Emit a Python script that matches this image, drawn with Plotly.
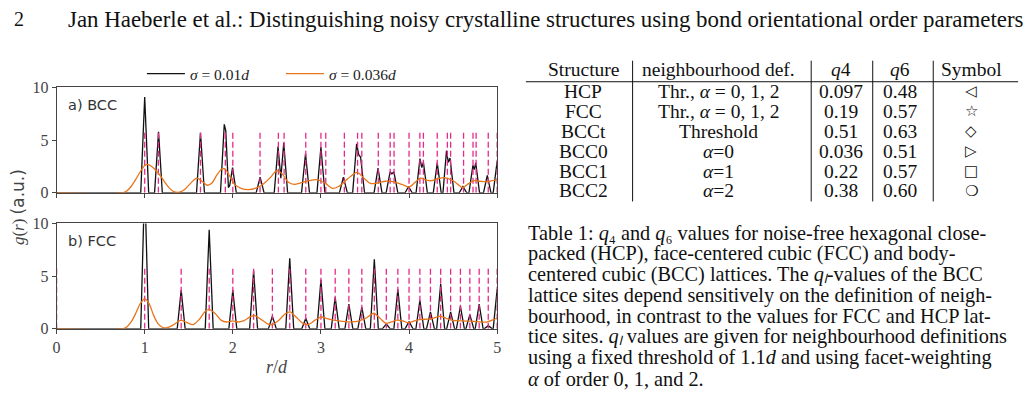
import plotly.graph_objects as go

W, H = 1033, 402

# ---------------- data ----------------
# r/d positions of the neighbour shells (dashed lines)
BCC_SHELLS = [1.0, 1.155, 1.633, 1.915, 2.0, 2.309, 2.517, 2.582, 2.828, 3.0, 3.055,
              3.266, 3.416, 3.464, 3.651, 3.786, 3.830, 4.0, 4.123, 4.163, 4.320,
              4.435, 4.472, 4.619, 4.726, 4.761, 4.899, 5.0]
FCC_SHELLS = [0.0, 1.0, 1.414, 1.732, 2.0, 2.236, 2.449, 2.646, 2.828, 3.0, 3.162,
              3.317, 3.464, 3.606, 3.742, 3.873, 4.0, 4.123, 4.243, 4.359, 4.472,
              4.583, 4.690, 4.796, 4.899, 5.0]
SHELL_MARK_HEIGHT = 5.8

# g(r), sigma = 0.01d  (BCC)
BCC_NARROW_R = [0.0, 0.955, 1.0, 1.045, 1.112, 1.157, 1.2, 1.588, 1.633, 1.678,
                1.86, 1.903, 1.92, 1.95, 1.965, 1.997, 2.04,
                2.265, 2.31, 2.355, 2.47, 2.513, 2.545, 2.578, 2.622,
                2.78, 2.825, 2.87, 2.955, 3.0, 3.045,
                3.21, 3.255, 3.3, 3.36, 3.405, 3.43, 3.45, 3.495,
                3.603, 3.648, 3.693, 3.74, 3.785, 3.805, 3.828, 3.873,
                3.955, 3.995, 4.035, 4.08, 4.124, 4.145, 4.163, 4.208,
                4.275, 4.32, 4.365, 4.385, 4.425, 4.445, 4.465, 4.51,
                4.57, 4.612, 4.655, 4.68, 4.725, 4.74, 4.757, 4.8,
                4.845, 4.888, 4.93, 4.955, 5.0]
BCC_NARROW_G = [0.0, 0.0, 9.1, 0.0, 0.0, 5.8, 0.0, 0.0, 5.7, 0.0,
                0.0, 6.5, 5.9, 0.5, 0.7, 2.4, 0.0,
                0.0, 1.5, 0.0, 0.0, 4.4, 1.4, 4.75, 0.0,
                0.0, 3.7, 0.0, 0.0, 4.35, 0.0,
                0.0, 1.5, 0.0, 0.0, 4.65, 3.6, 3.4, 0.0,
                0.0, 2.35, 0.0, 0.0, 2.0, 1.8, 2.0, 0.0,
                0.0, 0.6, 0.0, 0.0, 3.25, 2.4, 2.9, 0.0,
                0.0, 2.85, 0.0, 0.0, 4.0, 2.9, 3.3, 0.0,
                0.0, 0.6, 0.0, 0.0, 2.6, 2.2, 2.85, 0.0,
                0.0, 1.65, 0.0, 0.0, 3.0]

# g(r), sigma = 0.036d  (BCC)
BCC_WIDE_R = [0.0, 0.75, 0.8, 0.85, 0.9, 0.95, 1.0, 1.03, 1.08, 1.13, 1.18, 1.23, 1.28,
              1.33, 1.38, 1.45, 1.52, 1.59, 1.65, 1.71, 1.76, 1.82, 1.88, 1.92, 1.97,
              2.02, 2.1, 2.18, 2.26, 2.34, 2.42, 2.5, 2.56, 2.63, 2.7, 2.77, 2.84,
              2.96, 3.05, 3.13, 3.2, 3.3, 3.41, 3.5, 3.56, 3.65, 3.73, 3.83, 3.92,
              4.0, 4.07, 4.13, 4.2, 4.25, 4.33, 4.4, 4.5, 4.57, 4.61, 4.68, 4.74,
              4.8, 4.87, 4.94, 5.0]
BCC_WIDE_G = [0.0, 0.0, 0.2, 0.65, 1.3, 2.0, 2.6, 2.7, 2.5, 2.1, 1.6, 1.0, 0.45,
              0.12, 0.05, 0.3, 0.9, 1.4, 1.1, 0.72, 0.9, 1.7, 2.3, 2.2, 1.5,
              0.8, 0.4, 0.3, 0.45, 0.8, 1.4, 2.1, 1.8, 1.0, 0.8, 0.95, 1.1,
              1.24, 0.9, 0.42, 0.6, 1.3, 1.95, 1.3, 0.9, 0.95, 1.1, 1.05, 0.8,
              0.55, 1.0, 1.4, 1.2, 1.15, 1.35, 1.45, 1.15, 0.7, 0.5, 0.9, 1.15,
              1.1, 1.05, 1.15, 1.25]

# g(r), sigma = 0.01d  (FCC)
FCC_NARROW_R = [0.0, 0.955, 1.0, 1.045, 1.369, 1.414, 1.459, 1.687, 1.732, 1.777,
                1.955, 2.0, 2.045, 2.191, 2.236, 2.281, 2.404, 2.449, 2.494,
                2.601, 2.646, 2.691, 2.783, 2.828, 2.873, 2.955, 3.0, 3.045,
                3.117, 3.162, 3.207, 3.272, 3.317, 3.362, 3.419, 3.464, 3.509,
                3.561, 3.606, 3.651, 3.697, 3.742, 3.787, 3.828, 3.873, 3.918,
                3.955, 4.0, 4.045, 4.078, 4.123, 4.168, 4.198, 4.243, 4.288,
                4.314, 4.359, 4.404, 4.427, 4.472, 4.517, 4.538, 4.583, 4.628,
                4.645, 4.690, 4.735, 4.751, 4.796, 4.841, 4.854, 4.899, 4.944,
                4.955, 5.0]
FCC_NARROW_G = [0.0, 0.0, 14.0, 0.0, 0.0, 3.67, 0.0, 0.0, 9.4, 0.0,
                0.0, 3.67, 0.0, 0.0, 5.5, 0.0, 0.0, 1.2, 0.0,
                0.0, 6.7, 0.0, 0.0, 1.0, 0.0, 0.0, 4.65, 0.0,
                0.0, 3.0, 0.0, 0.0, 2.35, 0.0, 0.0, 2.05, 0.0,
                0.0, 6.6, 0.0, 0.0, 0.45, 0.0, 0.0, 3.75, 0.0,
                0.0, 0.7, 0.0, 0.0, 2.7, 0.0, 0.0, 1.6, 0.0,
                0.0, 4.25, 0.0, 0.0, 1.6, 0.0, 0.0, 2.15, 0.0,
                0.0, 1.35, 0.0, 0.0, 2.35, 0.0, 0.0, 0.3, 0.0,
                0.0, 3.75]

# g(r), sigma = 0.036d  (FCC)
FCC_WIDE_R = [0.0, 0.75, 0.8, 0.85, 0.9, 0.95, 1.0, 1.05, 1.1, 1.15, 1.2, 1.25, 1.32,
              1.41, 1.48, 1.55, 1.62, 1.68, 1.73, 1.8, 1.87, 1.93, 2.0, 2.06, 2.12,
              2.2, 2.25, 2.32, 2.4, 2.45, 2.52, 2.6, 2.65, 2.72, 2.8, 2.86, 2.93,
              3.0, 3.08, 3.16, 3.31, 3.43, 3.52, 3.6, 3.67, 3.74, 3.8, 3.86, 3.93,
              3.99, 4.06, 4.12, 4.25, 4.35, 4.42, 4.48, 4.6, 4.71, 4.88, 4.95, 5.0]
FCC_WIDE_G = [0.0, 0.0, 0.2, 0.7, 1.5, 2.4, 2.85, 2.4, 1.3, 0.5, 0.15, 0.1, 0.35,
              0.8, 0.6, 0.4, 0.9, 1.6, 1.85, 1.45, 0.8, 0.65, 0.75, 0.65, 0.75,
              1.15, 1.25, 0.9, 0.45, 0.42, 0.8, 1.45, 1.6, 1.1, 0.5, 0.42, 0.8,
              1.12, 0.95, 0.8, 0.67, 0.73, 1.05, 1.48, 1.0, 0.52, 0.65, 0.82, 0.75,
              0.58, 0.75, 0.88, 0.95, 1.18, 1.0, 0.82, 0.75, 0.73, 0.64, 0.85, 1.03]

X_TICKS = [0, 1, 2, 3, 4, 5]
Y_TICKS = [0, 5, 10]

LEGEND_NARROW = "<i>σ</i> = 0.01<i>d</i>"
LEGEND_WIDE = "<i>σ</i> = 0.036<i>d</i>"
PANEL_LABELS = ["a) BCC", "b) FCC"]

HEADER_PAGE = "2"
HEADER_TITLE = ("Jan Haeberle et al.: Distinguishing noisy crystalline structures "
                "using bond orientational order parameters")

TABLE_HEADER = ["Structure", "neighbourhood def.", "<i>q</i>4", "<i>q</i>6", "Symbol"]
STRUCTURES = ["HCP", "FCC", "BCCt", "BCC0", "BCC1", "BCC2"]
NEIGHBOURHOOD = ["Thr., <i>α</i> = 0, 1, 2", "Thr., <i>α</i> = 0, 1, 2", "Threshold",
                 "<i>α</i>=0", "<i>α</i>=1", "<i>α</i>=2"]
Q4_VALUES = ["0.097", "0.19", "0.51", "0.036", "0.22", "0.38"]
Q6_VALUES = ["0.48", "0.57", "0.63", "0.51", "0.57", "0.60"]
SYMBOLS = ["◁", "☆", "◇", "▷", "□", "❍"]

CAPTION_LINES = [
    "Table 1: <i>q</i>₄ and <i>q</i>₆ values for noise-free hexagonal close-",
    "packed (HCP), face-centered cubic (FCC) and body-",
    "centered cubic (BCC) lattices. The <i>q</i><i>ₗ</i>-values of the BCC",
    "lattice sites depend sensitively on the definition of neigh-",
    "bourhood, in contrast to the values for FCC and HCP lat-",
    "tice sites. <i>q</i><i>ₗ</i> values are given for neighbourhood definitions",
    "using a fixed threshold of 1.1<i>d</i> and using facet-weighting",
    "<i>α</i> of order 0, 1, and 2.",
]

# ---------------- styling / layout ----------------
SERIF = "Liberation Serif"
SANS = "DejaVu Sans"
BLACK = "#111111"
ORANGE = "#e8751a"
PINK = "#e7298a"
AXIS = "#444444"


def px(x):
    return x / W


def py(y):
    return 1 - y / H


def shell_xy(shells):
    xs, ys = [], []
    for s in shells:
        xs += [s, s, None]
        ys += [0, SHELL_MARK_HEIGHT, None]
    return xs, ys


fig = go.Figure()

panels = [
    ("x", "y", BCC_NARROW_R, BCC_NARROW_G, BCC_WIDE_R, BCC_WIDE_G, BCC_SHELLS, True),
    ("x2", "y2", FCC_NARROW_R, FCC_NARROW_G, FCC_WIDE_R, FCC_WIDE_G, FCC_SHELLS, False),
]
for xa, ya, nr, ng, wr, wg, shells, show in panels:
    fig.add_trace(go.Scatter(x=nr, y=ng, mode="lines", xaxis=xa, yaxis=ya,
                             line=dict(color=BLACK, width=1.3),
                             name=LEGEND_NARROW, showlegend=show, legendrank=1))
    sx, sy = shell_xy(shells)
    fig.add_trace(go.Scatter(x=sx, y=sy, mode="lines", xaxis=xa, yaxis=ya,
                             line=dict(color=PINK, width=1.3, dash="6px,3px"),
                             showlegend=False, hoverinfo="skip"))
    fig.add_trace(go.Scatter(x=wr, y=wg, mode="lines", xaxis=xa, yaxis=ya,
                             line=dict(color=ORANGE, width=1.3, shape="spline", smoothing=0.8),
                             name=LEGEND_WIDE, showlegend=show, legendrank=2))

axis_common = dict(showline=True, linecolor=AXIS, linewidth=1, mirror=True,
                   ticks="outside", ticklen=4, tickcolor=AXIS, tickwidth=1,
                   showgrid=False, zeroline=False,
                   tickfont=dict(family=SERIF, size=16, color="#444444"))

x_dom = [px(53), px(497)]
fig.update_layout(
    width=W, height=H,
    margin=dict(l=0, r=0, t=0, b=0),
    paper_bgcolor="white", plot_bgcolor="white",
    xaxis=dict(domain=x_dom, range=[0, 5], tickvals=X_TICKS, showticklabels=False,
               anchor="y", **axis_common),
    yaxis=dict(domain=[py(193), py(83)], range=[0, 10], tickvals=Y_TICKS,
               anchor="x", **axis_common),
    xaxis2=dict(domain=x_dom, range=[0, 5], tickvals=X_TICKS, showticklabels=True,
                anchor="y2", **axis_common),
    yaxis2=dict(domain=[py(335), py(225)], range=[0, 10], tickvals=Y_TICKS,
                anchor="x2", **axis_common),
    legend=dict(orientation="h", x=px(139), y=py(69), xanchor="left", yanchor="middle",
                entrywidth=86, entrywidthmode="pixels", itemwidth=38,
                bgcolor="rgba(0,0,0,0)", borderwidth=0,
                font=dict(family=SERIF, size=15.5, color="#222222")),
    showlegend=True,
)

ann = []
shapes = []

# header
ann.append(dict(text=HEADER_PAGE, x=px(8), y=py(12), xanchor="left", yanchor="middle",
                font=dict(family=SERIF, size=20, color="#111111")))
ann.append(dict(text=HEADER_TITLE, x=px(62), y=py(12), xanchor="left", yanchor="middle",
                font=dict(family=SERIF, size=22.9, color="#111111")))

# panel labels
ann.append(dict(text=PANEL_LABELS[0], x=px(62), y=py(101), xanchor="left", yanchor="middle",
                font=dict(family=SANS, size=14.5, color="#333333")))
ann.append(dict(text=PANEL_LABELS[1], x=px(62), y=py(243), xanchor="left", yanchor="middle",
                font=dict(family=SANS, size=14.5, color="#333333")))

# axis titles
ann.append(dict(text="<i>r</i>/<i>d</i>", x=px(275), y=py(375), xanchor="center", yanchor="middle",
                font=dict(family=SERIF, size=18, color="#444444")))
ann.append(dict(text="<i>g</i>(<i>r</i>) <span style=\"font-family:DejaVu Sans\">(a.u.)</span>",
                x=px(14), y=py(208), xanchor="center", yanchor="middle", textangle=-90,
                font=dict(family=SERIF, size=17, color="#444444")))

# table
TABLE_SIZE = 19.5
col_x = [584, 720, 844, 903, 975]
row_y = [87, 107.8, 128.6, 149.4, 170.2, 191]
for cx, t in zip(col_x, TABLE_HEADER):
    ann.append(dict(text=t, x=px(cx), y=py(64.5), xanchor="center", yanchor="middle",
                    font=dict(family=SERIF, size=TABLE_SIZE, color="#111111")))
for i, ry in enumerate(row_y):
    cells = [STRUCTURES[i], NEIGHBOURHOOD[i], Q4_VALUES[i], Q6_VALUES[i]]
    for cx, t in zip(col_x[:4], cells):
        ann.append(dict(text=t, x=px(cx), y=py(ry), xanchor="center", yanchor="middle",
                        font=dict(family=SERIF, size=TABLE_SIZE, color="#111111")))
    ann.append(dict(text=SYMBOLS[i], x=px(col_x[4]), y=py(ry), xanchor="center", yanchor="middle",
                    font=dict(family=SANS, size=15, color="#111111")))

shapes.append(dict(type="line", xref="paper", yref="paper", x0=px(526), x1=px(1022),
                   y0=py(77), y1=py(77), line=dict(color="#111111", width=1)))
for vx in [633.5, 813.5, 875.5, 936.5]:
    shapes.append(dict(type="line", xref="paper", yref="paper", x0=px(vx), x1=px(vx),
                       y0=py(55), y1=py(202), line=dict(color="#111111", width=1)))

# caption
cap_y = [235, 256.7, 278.4, 300.1, 321.8, 343.5, 365.2, 386.9]
for t, cy in zip(CAPTION_LINES, cap_y):
    ann.append(dict(text=t, x=px(526), y=py(cy), xanchor="left", yanchor="middle",
                    font=dict(family=SERIF, size=20.3, color="#111111")))

for a in ann:
    a.update(xref="paper", yref="paper", showarrow=False)
fig.update_layout(annotations=ann, shapes=shapes)

fig.write_html("out.html")
